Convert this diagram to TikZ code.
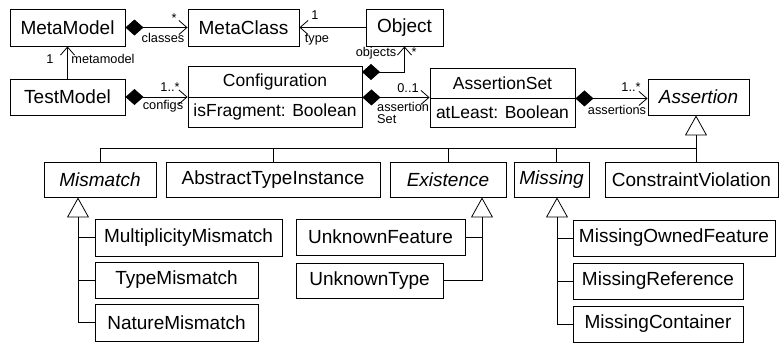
\documentclass[tikz,border=0pt]{standalone}
\usepackage{fontspec}
\setmainfont{Liberation Sans}
\usetikzlibrary{arrows.meta,calc}
\begin{document}
\begin{tikzpicture}[x=1pt,y=-1pt,
  cls/.style={draw, line width=0.9pt, inner sep=0pt, minimum height=36pt,
    font=\fontsize{19}{21}\selectfont},
  abs/.style={cls, font=\fontsize{19}{21}\selectfont\itshape},
  attr/.style={draw, line width=0.9pt, inner sep=0pt, minimum height=30pt,
    font=\fontsize{17.5}{19}\selectfont},
  lbl/.style={inner sep=0pt, font=\fontsize{12.75}{14}\selectfont},
  link/.style={line width=0.8pt},
  assoc/.style={link, -{Straight Barb[length=8pt,width=14pt]}},
  comp/.style={link, {Diamond[length=18pt,width=16pt]}-{Straight Barb[length=8pt,width=14pt]}},
  gen/.style={link, -{Triangle[open,length=20pt,width=22pt]}}
]
\useasboundingbox (0,0) rectangle (779,343);

% ---- top: metamodel and test model ----
\node[cls, minimum width=115pt, minimum height=37pt] (MetaModel) at (67.5,27.5) {MetaModel};
\node[cls, minimum width=111pt, minimum height=37pt] (MetaClass) at (243.5,27.5) {MetaClass};
\node[cls, minimum width=77pt, minimum height=37pt] (Object) at (404.5,27.5) {Object};
\node[cls, minimum width=115pt] (TestModel) at (67.5,97) {TestModel};

\node[attr, minimum width=174pt, minimum height=31pt] (CfgHead) at (275,81.5) {Configuration};
\node[attr, minimum width=174pt] (CfgAttr) at (275,112) {isFragment: Boolean};
\node[attr, minimum width=145pt] (SetHead) at (502.5,83) {AssertionSet};
\node[attr, minimum width=145pt, minimum height=29pt] (SetAttr) at (502.5,112.5) {atLeast: Boolean};
\node[abs, minimum width=101pt] (Assertion) at (698.5,97) {Assertion};

% ---- assertion kinds ----
\node[abs, minimum width=112pt, minimum height=35pt] (Mismatch) at (100,179.5) {Mismatch};
\node[cls, minimum width=214pt, minimum height=35pt] (AbstractTypeInstance) at (273,179.5) {AbstractTypeInstance};
\node[abs, minimum width=116pt, minimum height=35pt] (Existence) at (448,179.5) {Existence};
\node[abs, minimum width=75pt, minimum height=35pt] (Missing) at (551.5,179.5) {Missing};
\node[cls, minimum width=173pt, minimum height=35pt] (ConstraintViolation) at (691.5,179.5) {ConstraintViolation};

\node[cls, minimum width=187pt, minimum height=37pt] (MultiplicityMismatch) at (188.5,237.5) {MultiplicityMismatch};
\node[cls, minimum width=163pt] (TypeMismatch) at (176.5,280) {TypeMismatch};
\node[cls, minimum width=163pt, minimum height=37pt] (NatureMismatch) at (176.5,322.5) {NatureMismatch};

\node[cls, minimum width=169pt] (UnknownFeature) at (380.5,237) {UnknownFeature};
\node[cls, minimum width=147pt, minimum height=35pt] (UnknownType) at (369.5,280.5) {UnknownType};

\node[cls, minimum width=202pt] (MissingOwnedFeature) at (674,238) {MissingOwnedFeature};
\node[cls, minimum width=170pt] (MissingReference) at (658,281) {MissingReference};
\node[cls, minimum width=170pt] (MissingContainer) at (658,324) {MissingContainer};

% ---- associations ----
\draw[comp] (MetaModel.east) -- (MetaClass.west);
\node[lbl] (classesMult) at (174,18) {*};
\node[lbl] (classesRole) at (163,38) {classes};

\draw[assoc] (Object.west) -- (MetaClass.east);
\node[lbl] (typeMult) at (315,15) {1};
\node[lbl] (typeRole) at (317,40) {type};

\draw[assoc] (TestModel.north) -- (MetaModel.south);
\node[lbl] (mmMult) at (50,59) {1};
\node[lbl] (mmRole) at (103,59) {metamodel};

\draw[comp] (TestModel.east) -- (TestModel.east -| CfgHead.west);
\node[lbl] (cfgMult) at (170,87) {1..*};
\node[lbl] (cfgRole) at (163,106) {configs};

\coordinate (objTurn) at (362,72);
\draw[comp] (objTurn) -| (Object.south);
\node[lbl] (objRole) at (376,53) {objects};
\node[lbl] (objMult) at (414,52) {*};

\draw[comp] (CfgHead.south east) -- (CfgHead.south east -| SetHead.west);
\node[lbl] (setMult) at (408,88) {0..1};
\node[lbl, anchor=north west, align=left] (setRole) at (377,102)
  {assertion\\[-1.5pt]Set};

\draw[comp] (SetHead.south east) -- (SetHead.south east -| Assertion.west);
\node[lbl] (asMult) at (631,87) {1..*};
\node[lbl] (asRole) at (617,110) {assertions};

% ---- generalisation to Assertion ----
\coordinate (bus) at (696,148);
\coordinate (missX) at (556,148);
\draw[link] (Mismatch.north) |- (bus);
\draw[link] (AbstractTypeInstance.north) -- (AbstractTypeInstance.north |- bus);
\draw[link] (Existence.north) -- (Existence.north |- bus);
\draw[link] (Missing.north -| missX) -- (missX);
\draw[gen] (ConstraintViolation.north -| bus) -- (Assertion.south -| bus);

% ---- mismatch kinds ----
\coordinate (mmX) at (78,0);
\draw[gen] (NatureMismatch.west) -| (Mismatch.south -| mmX);
\draw[link] (TypeMismatch.west) -- (TypeMismatch.west -| mmX);
\draw[link] (MultiplicityMismatch.west) -- (MultiplicityMismatch.west -| mmX);

% ---- existence kinds ----
\coordinate (exX) at (482,0);
\draw[gen] (UnknownType.east) -| (Existence.south -| exX);
\draw[link] (UnknownFeature.east) -- (UnknownFeature.east -| exX);

% ---- missing kinds ----
\coordinate (msX) at (557,0);
\draw[gen] (MissingContainer.west) -| (Missing.south -| msX);
\draw[link] (MissingReference.west) -- (MissingReference.west -| msX);
\draw[link] (MissingOwnedFeature.west) -- (MissingOwnedFeature.west -| msX);
\end{tikzpicture}
\end{document}
